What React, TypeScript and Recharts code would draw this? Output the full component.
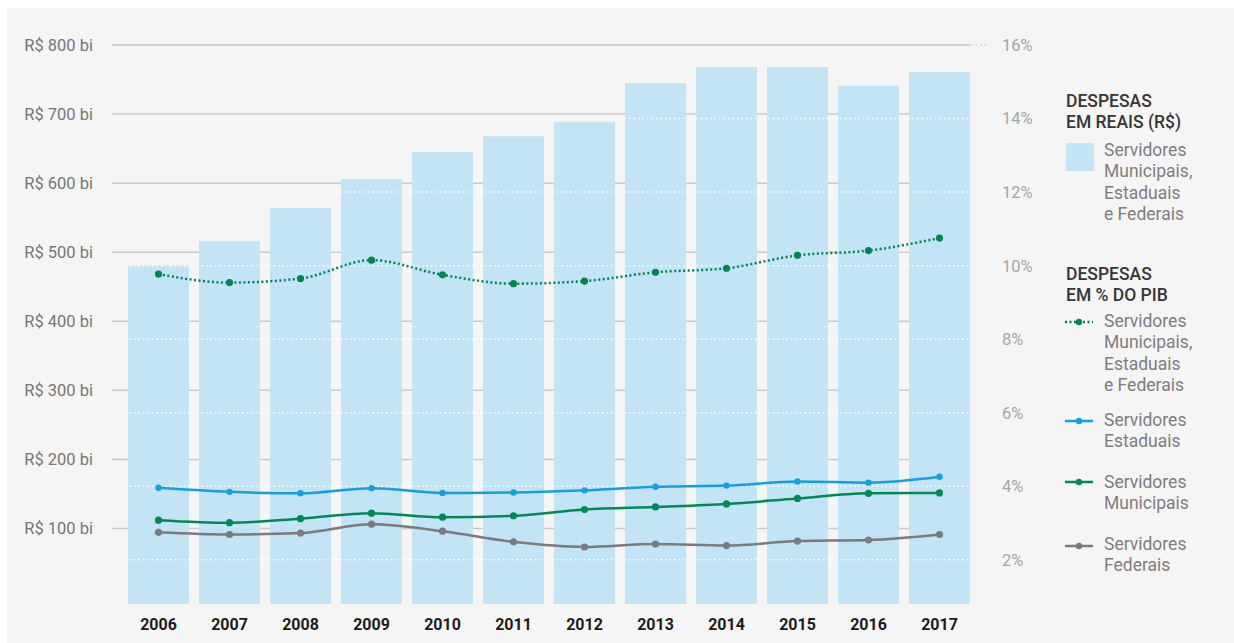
import React from 'react';
import {
  ComposedChart,
  Bar,
  Line,
  XAxis,
  YAxis,
  CartesianGrid,
  ReferenceLine,
  Legend,
} from 'recharts';

const FONT = "Roboto, 'DejaVu Sans', sans-serif";

const YEARS = ['2006', '2007', '2008', '2009', '2010', '2011', '2012', '2013', '2014', '2015', '2016', '2017'];
// despesas em R$ bi
const REAIS = [481, 516, 564, 606, 645, 668, 689, 745, 768, 768, 741, 761];
// despesas em % do PIB
const PIB_TOTAL = [9.77, 9.54, 9.65, 10.15, 9.75, 9.51, 9.58, 9.82, 9.93, 10.28, 10.41, 10.75];
const PIB_ESTADUAIS = [3.96, 3.85, 3.81, 3.95, 3.82, 3.83, 3.89, 3.99, 4.02, 4.13, 4.1, 4.26];
const PIB_MUNICIPAIS = [3.08, 3.01, 3.12, 3.27, 3.16, 3.2, 3.37, 3.44, 3.52, 3.67, 3.81, 3.82];
const PIB_FEDERAIS = [2.75, 2.69, 2.73, 2.97, 2.78, 2.49, 2.35, 2.43, 2.39, 2.51, 2.54, 2.69];

const LEFT_TICKS = [100, 200, 300, 400, 500, 600, 700, 800];
const RIGHT_TICKS = [2, 4, 6, 8, 10, 12, 14, 16];

// axis floors so that the plot bottom sits a little below zero, as in the original
const LEFT_FLOOR = -9.3;
const RIGHT_FLOOR = 0.8;

const BAR_COLOR = '#c2e4f4';
const TOTAL_COLOR = '#00854f';
const EST_COLOR = '#149fe0';
const MUN_COLOR = '#008a53';
const FED_COLOR = '#7c7a7b';

const rows = YEARS.map((year, i) => ({
  year,
  reais: REAIS[i],
  total: PIB_TOTAL[i],
  estaduais: PIB_ESTADUAIS[i],
  municipais: PIB_MUNICIPAIS[i],
  federais: PIB_FEDERAIS[i],
}));

const GridLine = (p: any) => {
  // no line on the bottom edge of the plot
  if (p.y != null && p.height != null && p.y1 >= p.y + p.height - 1) return <g key={p.key} />;
  const left = Math.min(p.x1, p.x2);
  const right = Math.max(p.x1, p.x2);
  return <line key={p.key} x1={left} y1={p.y1} x2={right - 16} y2={p.y2} stroke="#c9c9c9" strokeWidth={1.5} />;
};

const TopDots = (p: any) => {
  const right = Math.max(p.x1, p.x2);
  return (
    <line x1={right - 15} y1={p.y1} x2={right} y2={p.y2} stroke="#d2d2d2" strokeWidth={1.5} strokeDasharray="1.5 3" />
  );
};

const titleStyle: React.CSSProperties = {
  position: 'absolute',
  left: 6,
  fontSize: 17.5,
  lineHeight: '21px',
  fontWeight: 500,
  color: '#363636',
  whiteSpace: 'nowrap',
};

const itemStyle: React.CSSProperties = {
  position: 'absolute',
  left: 44,
  fontSize: 17.5,
  lineHeight: '21.3px',
  color: '#7f7d7e',
  whiteSpace: 'nowrap',
};

const LINE_ITEMS = [
  { color: TOTAL_COLOR, dashed: true, lines: ['Servidores', 'Municipais,', 'Estaduais', 'e Federais'], top: 311, mark: 322 },
  { color: EST_COLOR, dashed: false, lines: ['Servidores', 'Estaduais'], top: 409.5, mark: 421 },
  { color: MUN_COLOR, dashed: false, lines: ['Servidores', 'Municipais'], top: 472, mark: 482 },
  { color: FED_COLOR, dashed: false, lines: ['Servidores', 'Federais'], top: 533.5, mark: 546 },
];

const LegendBox = () => (
  <div style={{ position: 'relative', width: 174, height: 600, fontFamily: FONT }}>
    <div style={{ ...titleStyle, top: 90.5 }}>
      DESPESAS
      <br />
      EM REAIS (R$)
    </div>
    <div style={{ position: 'absolute', left: 6, top: 143, width: 28, height: 28, background: BAR_COLOR }} />
    <div style={{ ...itemStyle, top: 140.2 }}>
      Servidores
      <br />
      Municipais,
      <br />
      Estaduais
      <br />
      e Federais
    </div>
    <div style={{ ...titleStyle, top: 263.5 }}>
      DESPESAS
      <br />
      EM % DO PIB
    </div>
    {LINE_ITEMS.map((it) => (
      <React.Fragment key={it.top}>
        <svg width={28} height={10} style={{ position: 'absolute', left: 5, top: it.mark - 5 }}>
          <line
            x1={0}
            y1={5}
            x2={28}
            y2={5}
            stroke={it.color}
            strokeWidth={2.5}
            strokeDasharray={it.dashed ? '2 2.5' : undefined}
          />
          <circle cx={14} cy={5} r={3.2} fill={it.color} />
        </svg>
        <div style={{ ...itemStyle, top: it.top }}>
          {it.lines.map((l, j) => (
            <React.Fragment key={l}>
              {j > 0 && <br />}
              {l}
            </React.Fragment>
          ))}
        </div>
      </React.Fragment>
    ))}
  </div>
);

const dotOf = (color: string, r: number) => ({ r, fill: color, stroke: color, strokeWidth: 0, strokeDasharray: 'none' });

export default function App() {
  return (
    <div style={{ position: 'absolute', left: 0, top: 0, width: 1234, height: 643, background: '#fff', fontFamily: FONT }}>
      <div style={{ position: 'absolute', left: 7, top: 8, width: 1227, height: 635, background: '#f5f5f5' }} />
      <div style={{ position: 'absolute', left: 0, top: 0 }}>
        <ComposedChart
          width={1234}
          height={643}
          data={rows}
          margin={{ top: 45, right: 198, bottom: 9, left: 0 }}
        >
          <CartesianGrid yAxisId="left" vertical={false} horizontal={GridLine} />
          <XAxis
            dataKey="year"
            padding={{ left: 11, right: 11 }}
            axisLine={false}
            tickLine={false}
            tickSize={0}
            tickMargin={15}
            height={30}
            interval={0}
            tick={{ fill: '#1c1c1c', fontSize: 16, fontWeight: 700, fontFamily: FONT }}
          />
          <YAxis
            yAxisId="left"
            orientation="left"
            width={112}
            type="number"
            domain={[LEFT_FLOOR, 800]}
            allowDataOverflow
            ticks={LEFT_TICKS}
            interval={0}
            tickFormatter={(v: number) => `R$ ${v} bi`}
            axisLine={false}
            tickLine={false}
            tickSize={0}
            tickMargin={19}
            tick={{ fill: '#767676', fontSize: 16.5, fontFamily: FONT }}
          />
          <YAxis
            yAxisId="right"
            orientation="right"
            width={50}
            type="number"
            domain={[RIGHT_FLOOR, 16]}
            allowDataOverflow
            ticks={RIGHT_TICKS}
            interval={0}
            tickFormatter={(v: number) => `${v}%`}
            axisLine={false}
            tickLine={false}
            tickSize={0}
            tickMargin={16}
            tick={{ fill: '#a6a6a6', fontSize: 16.5, fontFamily: FONT, textAnchor: 'start' }}
          />
          <Bar
            yAxisId="left"
            name="Servidores Municipais, Estaduais e Federais (R$)"
            dataKey={(d: any) => [LEFT_FLOOR, d.reais]}
            fill={BAR_COLOR}
            barSize={61}
            isAnimationActive={false}
          />
          {RIGHT_TICKS.slice(0, -1).map((t) => (
            <ReferenceLine
              key={t}
              yAxisId="right"
              y={t}
              stroke="#ffffff"
              strokeWidth={1.5}
              strokeDasharray="1.5 3"
              zIndex={350}
            />
          ))}
          <ReferenceLine yAxisId="right" y={16} shape={TopDots} zIndex={350} />
          <Line
            yAxisId="right"
            type="monotone"
            dataKey="total"
            name="Servidores Municipais, Estaduais e Federais (% PIB)"
            stroke={TOTAL_COLOR}
            strokeWidth={2.5}
            strokeDasharray="2 2.5"
            dot={dotOf(TOTAL_COLOR, 3.6)}
            activeDot={false}
            isAnimationActive={false}
          />
          <Line
            yAxisId="right"
            type="monotone"
            dataKey="estaduais"
            name="Servidores Estaduais"
            stroke={EST_COLOR}
            strokeWidth={2.5}
            dot={dotOf(EST_COLOR, 3.2)}
            activeDot={false}
            isAnimationActive={false}
          />
          <Line
            yAxisId="right"
            type="monotone"
            dataKey="municipais"
            name="Servidores Municipais"
            stroke={MUN_COLOR}
            strokeWidth={2.5}
            dot={dotOf(MUN_COLOR, 3.6)}
            activeDot={false}
            isAnimationActive={false}
          />
          <Line
            yAxisId="right"
            type="monotone"
            dataKey="federais"
            name="Servidores Federais"
            stroke={FED_COLOR}
            strokeWidth={2.5}
            dot={dotOf(FED_COLOR, 3.6)}
            activeDot={false}
            isAnimationActive={false}
          />
          <Legend
            layout="horizontal"
            align="center"
            verticalAlign="middle"
            content={() => <LegendBox />}
            wrapperStyle={{ left: 1060, top: 0, width: 174, height: 600 }}
          />
        </ComposedChart>
      </div>
    </div>
  );
}
